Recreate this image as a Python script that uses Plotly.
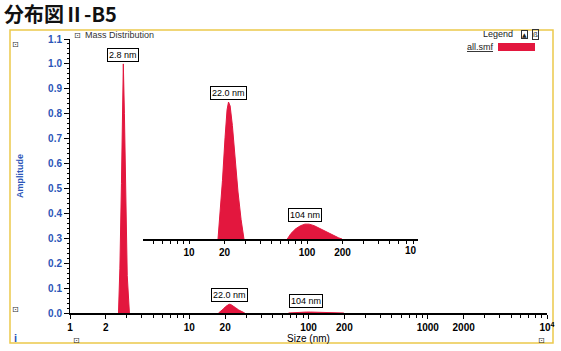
import math
import plotly.graph_objects as go

# ---- data ----
peak1_size = [2.55, 2.62, 2.70, 2.76, 2.80, 2.86, 2.93, 3.02, 3.15]
peak1_amp = [0.0, 0.18, 0.52, 0.85, 1.0, 0.80, 0.45, 0.15, 0.0]
peak2_size = [17.6, 18.3, 19.2, 20.2, 21.0, 21.6, 22.3, 23.3, 24.5, 26.0, 27.6, 29.2]
peak2_amp = [0.0, 0.006, 0.015, 0.026, 0.033, 0.035, 0.034, 0.029, 0.021, 0.012, 0.005, 0.0]
peak3_size = [68, 73, 80, 88, 96, 104, 115, 128, 145, 165, 185, 198]
peak3_amp = [0.0, 0.0014, 0.0026, 0.0034, 0.0038, 0.0038, 0.0034, 0.0027, 0.0018, 0.0009, 0.0003, 0.0]
peak_labels = ["2.8 nm", "22.0 nm", "104 nm"]
main_x_ticks = [1, 2, 10, 20, 100, 200, 1000, 2000, 10000]
main_x_text = ["1", "2", "10", "20", "100", "200", "1000", "2000", "10<sup>4</sup>"]
inset_x_ticks = [10, 20, 100, 200]
inset_x_text = ["10", "20", "100", "200"]
y_ticks = [round(0.1 * i, 1) for i in range(12)]

RED = "#e3173e"
BLUE = "#2b55b8"
FONT = "Liberation Sans"

minor_vals = [m * 10 ** k for k in range(0, 4) for m in range(1, 10)] + [10000]
inset_minor = [m * 10 ** k for k in range(0, 3) for m in range(1, 10)]

fig = go.Figure()
peaks = [(peak1_size, peak1_amp), (peak2_size, peak2_amp), (peak3_size, peak3_amp)]
for sx, sy in peaks:
    fig.add_trace(go.Scatter(x=sx, y=sy, mode="lines", fill="tozeroy",
                             line=dict(color=RED, width=1), fillcolor=RED,
                             xaxis="x", yaxis="y", showlegend=False, hoverinfo="skip"))
for sx, sy in peaks[1:]:
    fig.add_trace(go.Scatter(x=sx, y=sy, mode="lines", fill="tozeroy",
                             line=dict(color=RED, width=1), fillcolor=RED,
                             xaxis="x2", yaxis="y2", showlegend=False, hoverinfo="skip"))

ann = []
for (sx, sy), lab in zip(peaks, peak_labels):
    i = sy.index(max(sy))
    ann.append(dict(x=math.log10(sx[i]), y=max(sy), xref="x", yref="y",
                    text=lab, showarrow=False, yanchor="bottom", xanchor="center",
                    yshift=2 if lab != "104 nm" else 4,
                    font=dict(family=FONT, size=9, color="black"),
                    bordercolor="black", borderwidth=1, borderpad=1, bgcolor="white"))
for (sx, sy), lab in zip(peaks[1:], peak_labels[1:]):
    i = sy.index(max(sy))
    ann.append(dict(x=math.log10(sx[i]), y=max(sy), xref="x2", yref="y2",
                    text=lab, showarrow=False, yanchor="bottom", xanchor="center", yshift=2,
                    font=dict(family=FONT, size=9, color="black"),
                    bordercolor="black", borderwidth=1, borderpad=1, bgcolor="white"))

L, R, T, B = 70, 547, 39, 313


def px(x):
    return (x - L) / float(R - L)


def py(y):
    return (B - y) / float(B - T)


def note(x, y, text, size, color="#222", family=FONT, xanchor="center", **kw):
    d = dict(x=px(x), y=py(y), xref="paper", yref="paper", text=text, showarrow=False,
             xanchor=xanchor, yanchor="middle", font=dict(family=family, size=size, color=color))
    d.update(kw)
    ann.append(d)


# chart title
note(2, 14, "<b>分布図Ⅱ-B5</b>", 20, color="#111", family="Noto Sans CJK JP", xanchor="left")
# clipped 1000 label of inset
note(419, 251, "<b>10</b>", 10, color="black", xanchor="right")
# Mass distribution header
note(83, 35, "Mass Distribution", 9, color="#333", xanchor="left")
note(77, 35, "⊡", 8, color="#333", family="DejaVu Sans")
# Legend header
note(515, 34, "Legend", 9, xanchor="right")
note(524, 34, "▲", 6, family="DejaVu Sans", bordercolor="#333", borderwidth=1, borderpad=0)
note(535, 34, "ß", 8, bordercolor="#333", borderwidth=1, borderpad=0)
note(496, 47, "<u>all.smf</u>", 9, xanchor="right")
# small icons
for (ix, iy) in [(15, 45), (15, 309), (76, 340), (541, 340)]:
    note(ix, iy, "⊡", 8, color="#333", family="DejaVu Sans")
note(15, 338, "<b>i</b>", 11, color=BLUE)

shapes = [
    dict(type="rect", xref="paper", yref="paper", x0=px(10), x1=px(553), y0=py(343), y1=py(30),
         line=dict(color="#ecc94b", width=1.5), layer="below"),
    dict(type="rect", xref="paper", yref="paper", x0=px(498), x1=px(535), y0=py(51), y1=py(43),
         line=dict(width=0), fillcolor=RED),
]

fig.update_layout(
    template="none",
    width=561, height=351,
    margin=dict(l=L, r=561 - R, t=T, b=351 - B, autoexpand=False),
    paper_bgcolor="white", plot_bgcolor="white",
    xaxis=dict(type="log", range=[0, 4], domain=[0, 1], showgrid=False, zeroline=False,
               automargin=False,
               showline=True, linecolor="black", linewidth=1.5,
               tickvals=main_x_ticks, ticktext=main_x_text, ticks="outside", ticklen=4,
               tickcolor="black", tickfont=dict(family=FONT, size=10, color="black", weight="bold"),
               minor=dict(tickvals=minor_vals, ticks="outside", ticklen=3, tickcolor="black"),
               title=dict(text="Size (nm)", standoff=2, font=dict(family=FONT, size=10, color="black"))),
    yaxis=dict(range=[0, 1.1], domain=[0, 1], showgrid=False, zeroline=False,
               automargin=False,
               showline=True, linecolor="black", linewidth=1,
               tickvals=y_ticks, tickformat=".1f", ticks="outside", ticklen=5, tickcolor="black",
               tickfont=dict(family=FONT, size=10, color=BLUE, weight="bold"),
               minor=dict(dtick=0.02, ticks="outside", ticklen=2, tickcolor="black"),
               title=dict(text="<b>Amplitude</b>", standoff=22, font=dict(family=FONT, size=9, color=BLUE))),
    xaxis2=dict(type="log", range=[0.61, 2.94], domain=[px(143), px(418)], anchor="y2",
                automargin=False,
                showgrid=False, zeroline=False, showline=True, linecolor="black", linewidth=1.5,
                tickvals=inset_x_ticks, ticktext=inset_x_text, ticks="outside", ticklen=3,
                tickcolor="black", tickfont=dict(family=FONT, size=10, color="black", weight="bold"),
                minor=dict(tickvals=inset_minor, ticks="outside", ticklen=3, tickcolor="black")),
    yaxis2=dict(range=[0, 0.0368], domain=[py(239), py(95)], anchor="x2", visible=False),
    annotations=ann, shapes=shapes, showlegend=False,
)

fig.write_html("out.html")
